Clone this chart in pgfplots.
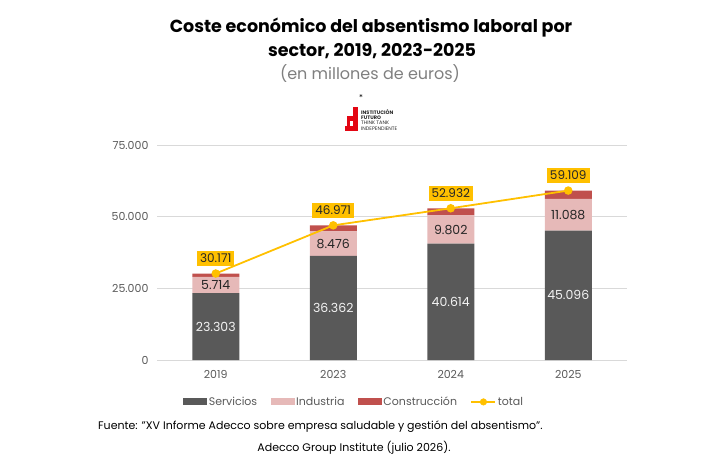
\documentclass[border=0pt]{standalone}
\usepackage{fontspec}
\setmainfont{Poppins}
\usepackage{pgfplots}
\pgfplotsset{compat=1.18}
\definecolor{servcol}{HTML}{595959}
\definecolor{indcol}{HTML}{E6B9B8}
\definecolor{concol}{HTML}{C0504D}
\definecolor{totcol}{HTML}{FFC000}
\definecolor{gridgray}{HTML}{D9D9D9}
\definecolor{tickgray}{HTML}{595959}
\definecolor{subgray}{HTML}{7F7F7F}
\definecolor{darktxt}{HTML}{262626}
\definecolor{logored}{HTML}{E30613}
\begin{document}
\begin{tikzpicture}[x=1pt,y=1pt]
\useasboundingbox (0,0) rectangle (728,464);
\coordinate (A) at (157,104);
% titles
\node[font=\bfseries\fontsize{17.5}{20}\selectfont, text=black] at (371,436) {Coste económico del absentismo laboral por};
\node[font=\bfseries\fontsize{17.5}{20}\selectfont, text=black] at (372,413) {sector, 2019, 2023-2025};
\node[font=\fontsize{16}{19}\selectfont, text=subgray] at (370,390) {(en millones de euros)};
\node[font=\fontsize{8}{9}\selectfont] at (361,366) {*};
% logo
\fill[logored] (353,333) rectangle (358,357);
\fill[logored] (347,343) rectangle (358,348);
\fill[logored] (345,333) rectangle (358,338);
\fill[logored] (347,338) rectangle (350,348);
\node[anchor=north west, font=\fontsize{5}{5.4}\selectfont, inner sep=0pt, align=left, text=darktxt] at (361,355) {\textbf{INSTITUCIÓN}\\\textbf{FUTURO}\\THINK TANK\\INDEPENDIENTE};
% bars
\begin{axis}[at={(A)}, anchor=south west, width=470pt, height=215pt, scale only axis,
  ybar stacked, bar width=47pt,
  xmin=-0.5, xmax=3.5, ymin=0, ymax=75000,
  xtick={0,1,2,3}, xticklabels={2019,2023,2024,2025},
  ytick={0,25000,50000,75000}, scaled y ticks=false,
  ymajorgrids, grid style={color=gridgray, line width=0.8pt},
  axis line style={draw=none}, major tick length=0pt,
  tick label style={font=\fontsize{11}{13}\selectfont, text=tickgray},
  yticklabel style={xshift=-5pt},
  xticklabel style={yshift=-7pt},
  /pgf/number format/.cd, 1000 sep={.}, assume math mode=true, /pgfplots/.cd,
  legend columns=4,
  legend style={at={(0.419,-0.195)}, anchor=center, draw=none, fill=none,
    font=\fontsize{11}{13}\selectfont, text=tickgray,
    /tikz/every even column/.append style={column sep=12pt},
    nodes={inner xsep=1.5pt}},
]
\addplot[fill=servcol, draw=none, legend image code/.code={\fill[servcol] (0pt,-3.5pt) rectangle (24pt,3.5pt);}] coordinates {(0,23303) (1,36362) (2,40614) (3,45096)};
\addlegendentry{Servicios}
\addplot[fill=indcol, draw=none, legend image code/.code={\fill[indcol] (0pt,-3.5pt) rectangle (24pt,3.5pt);}] coordinates {(0,5714) (1,8476) (2,9802) (3,11088)};
\addlegendentry{Industria}
\addplot[fill=concol, draw=none, legend image code/.code={\fill[concol] (0pt,-3.5pt) rectangle (24pt,3.5pt);}] coordinates {(0,1154) (1,2133) (2,2516) (3,2925)};
\addlegendentry{Construcción}
\addlegendimage{legend image code/.code={\draw[totcol, line width=1.8pt] (0pt,0pt) -- (24pt,0pt); \fill[totcol] (12pt,0pt) circle (3.3pt);}}
\addlegendentry{total}
\end{axis}
% overlay: labels and total line
\begin{axis}[at={(A)}, anchor=south west, width=470pt, height=215pt, scale only axis,
  xmin=-0.5, xmax=3.5, ymin=0, ymax=75000, hide axis, clip=false,
  /pgf/number format/.cd, 1000 sep={.}, assume math mode=true, /pgfplots/.cd,
]
\addplot[draw=none, mark=none, point meta=explicit, nodes near coords,
  nodes near coords style={anchor=center, font=\fontsize{12.5}{14}\selectfont, text=white!95!black}]
  coordinates {(0,11651.5) [23303] (1,18181) [36362] (2,20307) [40614] (3,22548) [45096]};
\addplot[draw=none, mark=none, point meta=explicit, nodes near coords,
  nodes near coords style={anchor=center, font=\fontsize{12.5}{14}\selectfont, text=darktxt}]
  coordinates {(0,26160) [5714] (1,40600) [8476] (2,45515) [9802] (3,50640) [11088]};
\addplot[color=totcol, line width=1.8pt, mark=*, mark size=3.3pt, mark options={fill=totcol, draw=totcol},
  nodes near coords,
  nodes near coords style={anchor=south, yshift=6.5pt, fill=totcol, text=darktxt, font=\fontsize{12}{14}\selectfont, inner xsep=3pt, inner ysep=3.2pt}]
  coordinates {(0,30171) (1,46971) (2,52932) (3,59109)};
\end{axis}
% source
\node[anchor=west, font=\fontsize{11}{13}\selectfont, text=black, inner sep=0pt] at (98,37) {Fuente: \symbol{34}XV Informe Adecco sobre empresa saludable y gestión del absentismo\symbol{34}.};
\node[font=\fontsize{11}{13}\selectfont, text=black, inner sep=0pt] at (354,16) {Adecco Group Institute (julio 2026).};
\end{tikzpicture}
\end{document}
